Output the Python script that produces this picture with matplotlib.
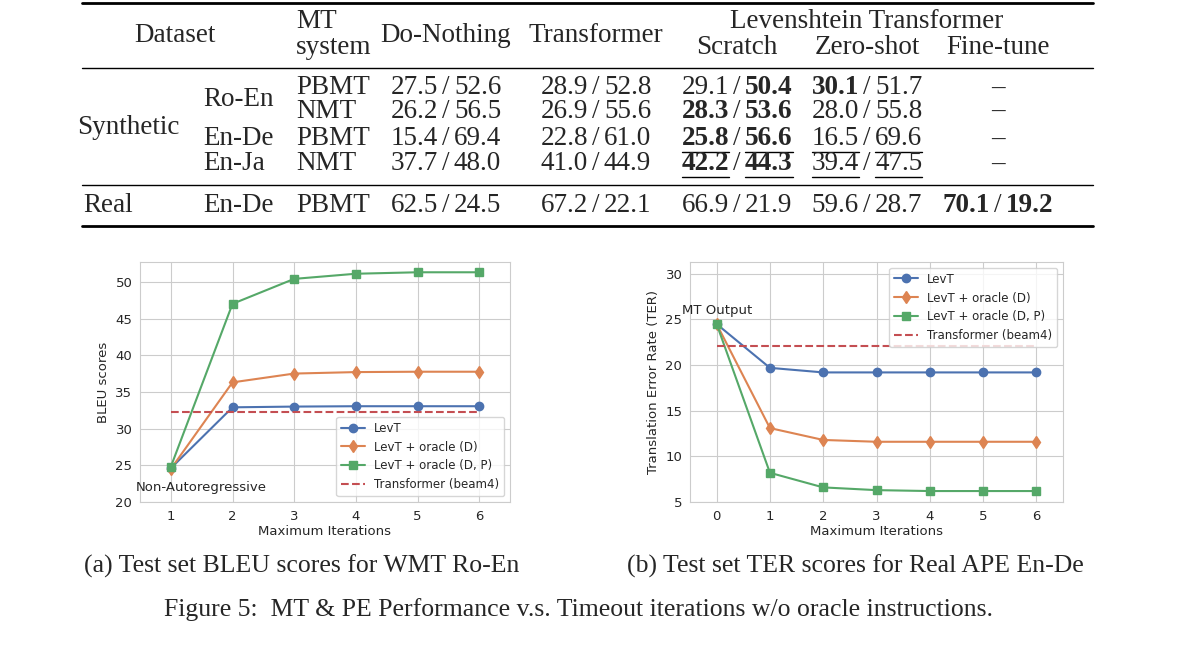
import matplotlib
matplotlib.use("Agg")
import matplotlib.pyplot as plt
import seaborn as sns

sns.set_style("whitegrid")

# ---- data ----
header_cols = ["Do-Nothing", "Transformer", "Scratch", "Zero-shot", "Fine-tune"]
row_pair = ["Ro-En", "Ro-En", "En-De", "En-Ja", "En-De"]
row_mt = ["PBMT", "NMT", "PBMT", "NMT", "PBMT"]
# each cell: (left, right) ; None for dash
do_nothing = [("27.5", "52.6"), ("26.2", "56.5"), ("15.4", "69.4"), ("37.7", "48.0"), ("62.5", "24.5")]
transformer = [("28.9", "52.8"), ("26.9", "55.6"), ("22.8", "61.0"), ("41.0", "44.9"), ("67.2", "22.1")]
scratch = [("29.1", "50.4"), ("28.3", "53.6"), ("25.8", "56.6"), ("42.2", "44.3"), ("66.9", "21.9")]
zero_shot = [("30.1", "51.7"), ("28.0", "55.8"), ("16.5", "69.6"), ("39.4", "47.5"), ("59.6", "28.7")]
fine_tune = [None, None, None, None, ("70.1", "19.2")]
# style flags per cell: (bold_left, bold_right, underline_left, underline_right)
scratch_fmt = [(0, 1, 0, 0), (1, 1, 0, 0), (1, 1, 1, 1), (1, 1, 1, 1), (0, 0, 0, 0)]
zero_fmt = [(1, 0, 0, 0), (0, 0, 0, 0), (0, 0, 1, 1), (0, 0, 1, 1), (0, 0, 0, 0)]
fine_fmt = [None, None, None, None, (1, 1, 0, 0)]

iters_a = [1, 2, 3, 4, 5, 6]
bleu_levt = [24.6, 32.9, 33.0, 33.05, 33.05, 33.05]
bleu_d = [24.5, 36.3, 37.5, 37.7, 37.75, 37.75]
bleu_dp = [24.8, 47.0, 50.4, 51.1, 51.3, 51.3]
bleu_trans = 32.3

iters_b = [0, 1, 2, 3, 4, 5, 6]
ter_levt = [24.5, 19.7, 19.2, 19.2, 19.2, 19.2, 19.2]
ter_d = [24.5, 13.1, 11.8, 11.6, 11.6, 11.6, 11.6]
ter_dp = [24.5, 8.2, 6.6, 6.3, 6.2, 6.2, 6.2]
ter_trans = 22.1

W, H = 1200, 648
fig = plt.figure(figsize=(12, 6.48), dpi=100)
serif = ["Liberation Serif", "DejaVu Serif"]
FS = 19.5


def px(x, y):
    return x / W, 1 - y / H


def txt(x, y, s, ha="center", bold=False, size=FS):
    fx, fy = px(x, y)
    return fig.text(fx, fy, s, ha=ha, va="center", family=serif, size=size,
                    weight="bold" if bold else "normal")


def hline(y, x0=82, x1=1093, lw=1.0):
    fig.add_artist(plt.Line2D([x0 / W, x1 / W], [1 - y / H, 1 - y / H], color="black", lw=lw))


# ---- table ----
hline(3, lw=2.0)
hline(68)
hline(185)
hline(226, lw=2.0)
txt(175, 35, "Dataset")
txt(296, 22, "MT", ha="left")
txt(296, 48, "system", ha="left")
txt(446, 35, header_cols[0])
txt(596, 35, header_cols[1])
txt(867, 22, "Levenshtein Transformer")
txt(737, 48, header_cols[2])
txt(867, 48, header_cols[3])
txt(998, 48, header_cols[4])
txt(128, 127, "Synthetic")
txt(83, 205, "Real", ha="left")

row_y = [88, 111, 139, 164, 205]
pair_y = [100, None, 139, 164, 205]
for i, y in enumerate(row_y):
    if pair_y[i] is not None:
        txt(203, pair_y[i], row_pair[i], ha="left")
    txt(296, y, row_mt[i], ha="left")

renderer = fig.canvas.get_renderer()


def cell(cx, y, pair, fmt=(0, 0, 0, 0)):
    if pair is None:
        txt(cx, y, "–")
        return
    a = txt(cx - 8, y, pair[0], ha="right", bold=fmt[0])
    txt(cx, y, "/")
    b = txt(cx + 8, y, pair[1], ha="left", bold=fmt[1])
    for t, u in ((a, fmt[2]), (b, fmt[3])):
        if u:
            bb = t.get_window_extent(renderer)
            yy = 1 - (y + 13) / H
            fig.add_artist(plt.Line2D([bb.x0 / W, bb.x1 / W], [yy, yy], color="black", lw=1.0))


for i, y in enumerate(row_y):
    cell(446, y, do_nothing[i])
    cell(596, y, transformer[i])
    cell(737, y, scratch[i], scratch_fmt[i])
    cell(867, y, zero_shot[i], zero_fmt[i])
    cell(998, y, fine_tune[i], fine_fmt[i] or (0, 0, 0, 0))

# ---- plots ----
c = sns.color_palette("deep")
ax1 = fig.add_axes([140 / W, 1 - 502 / H, 370 / W, 240 / H])
ax2 = fig.add_axes([690 / W, 1 - 502 / H, 373 / W, 240 / H])
ms = 6
for ax, x, s1, s2, s3, tr in ((ax1, iters_a, bleu_levt, bleu_d, bleu_dp, bleu_trans),
                               (ax2, iters_b, ter_levt, ter_d, ter_dp, ter_trans)):
    ax.plot(x, s1, "-o", color=c[0], ms=ms, lw=1.5, label="LevT")
    ax.plot(x, s2, "-d", color=c[1], ms=ms, lw=1.5, label="LevT + oracle (D)")
    ax.plot(x, s3, "-s", color=c[2], ms=ms, lw=1.5, label="LevT + oracle (D, P)")
    ax.plot([x[0], x[-1]], [tr, tr], "--", color=c[3], lw=1.5, label="Transformer (beam4)")
    ax.set_xlabel("Maximum Iterations", fontsize=9.5, labelpad=2)
    ax.tick_params(labelsize=9.5, pad=2)
    for sp in ax.spines.values():
        sp.set_color("#cccccc")

ax1.set_ylim(20, 52.7)
ax1.set_xlim(0.5, 6.5)
ax1.set_ylabel("BLEU scores", fontsize=9.5)
ax1.text(1.5, 22, "Non-Autoregressive", ha="center", va="center", fontsize=9.5)
ax1.legend(loc="lower right", fontsize=8.5)

ax2.set_ylim(5, 31.3)
ax2.set_xlim(-0.5, 6.5)
ax2.set_yticks([5, 10, 15, 20, 25, 30])
ax2.set_ylabel("Translation Error Rate (TER)", fontsize=9.5)
ax2.text(0.0, 26.0, "MT Output", ha="center", va="center", fontsize=9.5)
ax2.legend(loc="upper right", fontsize=8.5)

# ---- captions ----
txt(302, 566, "(a) Test set BLEU scores for WMT Ro-En", size=18.5)
txt(855, 566, "(b) Test set TER scores for Real APE En-De", size=18.5)
txt(578, 610, "Figure 5:  MT & PE Performance v.s. Timeout iterations w/o oracle instructions.", size=18.5)

fig.savefig("out.png", dpi=100)
